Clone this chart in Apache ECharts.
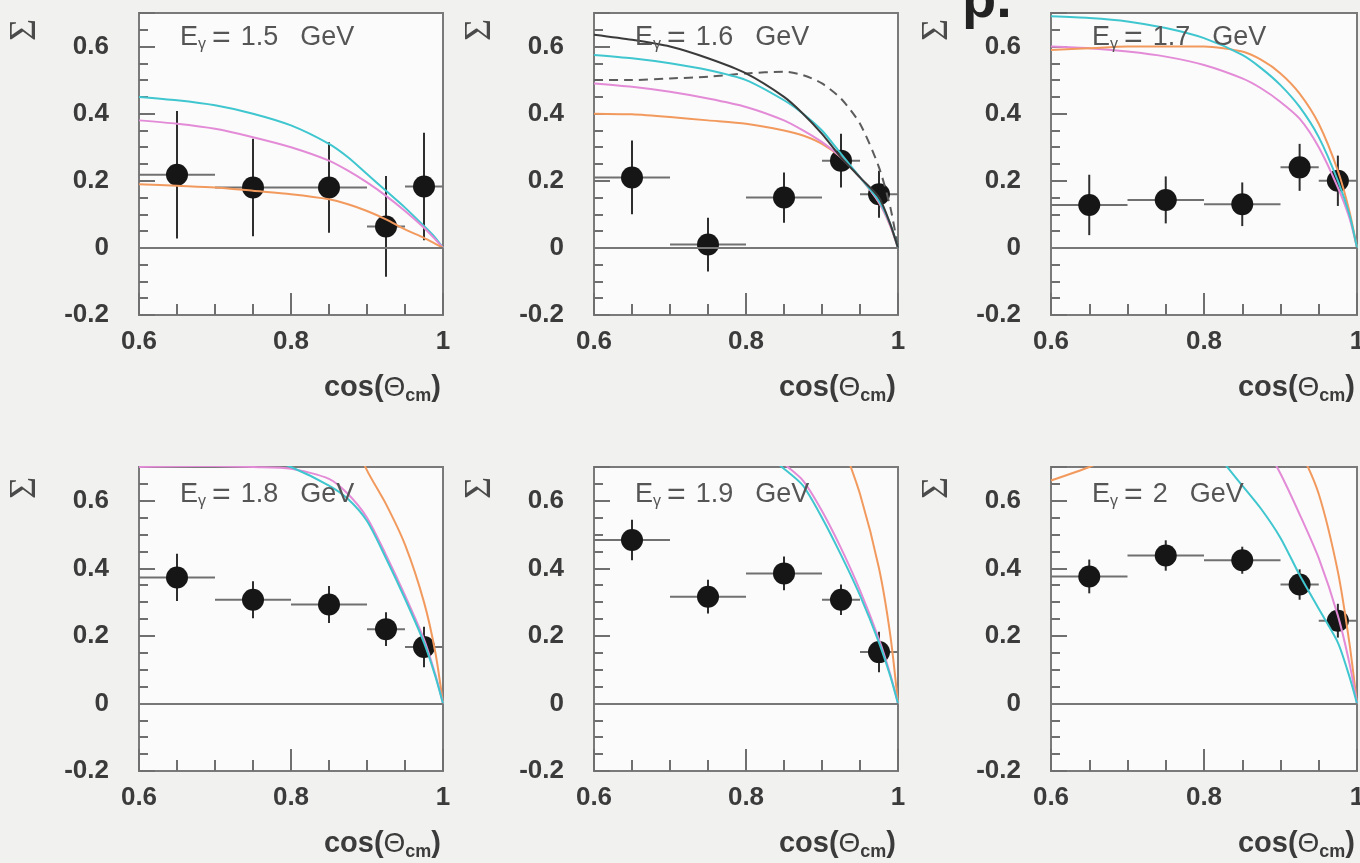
<!DOCTYPE html>
<html>
<head>
<meta charset="utf-8">
<title>Sigma vs cos(theta_cm)</title>
<script src="https://cdn.jsdelivr.net/npm/echarts@6/dist/echarts.min.js"></script>
<style>
  html, body { margin: 0; padding: 0; background: #f1f1ef; }
  #echarts_sigma { width: 1360px; height: 863px; }
</style>
</head>
<body>
<div id="echarts_sigma"></div>
<script>
// ---- data ----
var energies = ['1.5', '1.6', '1.7', '1.8', '1.9', '2'];
var cos_pts = [0.65, 0.75, 0.85, 0.925, 0.975];
var bin_lo = [0.6, 0.7, 0.8, 0.9, 0.95];
var bin_hi = [0.7, 0.8, 0.9, 0.95, 1.0];
var x_ticks = [0.6, 0.8, 1.0];
var y_ticks = [-0.2, 0, 0.2, 0.4, 0.6];

var sigma_15 = [0.218, 0.180, 0.180, 0.064, 0.183];
var err_15   = [0.190, 0.145, 0.135, 0.150, 0.160];
var sigma_16 = [0.210, 0.010, 0.150, 0.260, 0.160];
var err_16   = [0.110, 0.080, 0.075, 0.080, 0.070];
var sigma_17 = [0.128, 0.143, 0.130, 0.240, 0.200];
var err_17   = [0.090, 0.070, 0.065, 0.070, 0.075];
var sigma_18 = [0.373, 0.307, 0.293, 0.220, 0.167];
var err_18   = [0.070, 0.055, 0.055, 0.050, 0.060];
var sigma_19 = [0.484, 0.316, 0.385, 0.307, 0.152];
var err_19   = [0.060, 0.050, 0.050, 0.045, 0.060];
var sigma_20 = [0.376, 0.438, 0.424, 0.352, 0.245];
var err_20   = [0.050, 0.045, 0.040, 0.045, 0.050];

// model curves, sampled at curve_cos
var curve_cos = [0.6, 0.65, 0.7, 0.75, 0.8, 0.85, 0.875, 0.9, 0.925, 0.95, 0.975, 0.99, 1.0];

var cyan_15    = [0.45, 0.44, 0.425, 0.40, 0.365, 0.31, 0.27, 0.22, 0.17, 0.12, 0.065, 0.03, 0];
var magenta_15 = [0.38, 0.37, 0.355, 0.33, 0.30, 0.26, 0.23, 0.195, 0.155, 0.11, 0.06, 0.025, 0];
var orange_15  = [0.19, 0.185, 0.18, 0.17, 0.16, 0.145, 0.13, 0.11, 0.085, 0.055, 0.03, 0.012, 0];

var black_16   = [0.635, 0.62, 0.60, 0.565, 0.52, 0.45, 0.40, 0.34, 0.27, 0.21, 0.15, 0.07, 0];
var cyan_16    = [0.575, 0.565, 0.55, 0.53, 0.50, 0.44, 0.40, 0.35, 0.28, 0.21, 0.14, 0.07, 0];
var dash_16    = [0.50, 0.50, 0.505, 0.51, 0.52, 0.525, 0.515, 0.49, 0.445, 0.37, 0.24, 0.12, 0];
var magenta_16 = [0.49, 0.48, 0.465, 0.445, 0.42, 0.38, 0.35, 0.315, 0.27, 0.21, 0.135, 0.065, 0];
var orange_16  = [0.40, 0.398, 0.39, 0.38, 0.37, 0.35, 0.335, 0.31, 0.27, 0.21, 0.135, 0.065, 0];

var cyan_17    = [0.69, 0.685, 0.675, 0.655, 0.625, 0.575, 0.535, 0.485, 0.42, 0.33, 0.20, 0.10, 0];
var orange_17  = [0.59, 0.595, 0.60, 0.60, 0.60, 0.585, 0.56, 0.52, 0.46, 0.37, 0.23, 0.11, 0];
var magenta_17 = [0.60, 0.595, 0.585, 0.57, 0.545, 0.505, 0.475, 0.435, 0.385, 0.30, 0.18, 0.09, 0];

var cyan_18    = [0.80, 0.79, 0.77, 0.74, 0.70, 0.645, 0.605, 0.54, 0.43, 0.31, 0.18, 0.08, 0];
var magenta_18 = [0.70, 0.702, 0.703, 0.70, 0.695, 0.665, 0.62, 0.55, 0.44, 0.32, 0.19, 0.085, 0];
var orange_18  = [1.20, 1.20, 1.18, 1.15, 1.10, 0.95, 0.82, 0.69, 0.59, 0.47, 0.30, 0.15, 0];

var cyan_19    = [0.95, 0.93, 0.90, 0.85, 0.78, 0.695, 0.645, 0.55, 0.44, 0.32, 0.18, 0.08, 0];
var magenta_19 = [1.00, 0.98, 0.95, 0.90, 0.82, 0.71, 0.66, 0.57, 0.46, 0.335, 0.19, 0.085, 0];
var orange_19  = [1.50, 1.50, 1.45, 1.40, 1.30, 1.15, 1.05, 0.93, 0.78, 0.62, 0.40, 0.20, 0];

var cyan_20    = [1.00, 0.97, 0.93, 0.87, 0.78, 0.645, 0.575, 0.49, 0.38, 0.28, 0.18, 0.08, 0];
var magenta_20 = [1.30, 1.28, 1.22, 1.15, 1.03, 0.87, 0.78, 0.68, 0.56, 0.43, 0.26, 0.12, 0];
var orange_20  = [0.66, 0.70, 0.75, 0.80, 0.85, 0.88, 0.88, 0.84, 0.75, 0.62, 0.39, 0.18, 0];

// ---- layout ----
var col_left = [139, 594, 1051];
var col_width = [304, 304, 306];
var row_top = [13, 467];
var row_height = [302, 304];

var C_CYAN = '#3fc6cf', C_MAG = '#e38bd7', C_ORA = '#f29a5e', C_BLK = '#3a3a3a', C_DASH = '#5c5c5c';
var TXT = '#3b3b3b';

var panels = [
  {sig: sigma_15, err: err_15, curves: [[C_CYAN, cyan_15], [C_MAG, magenta_15], [C_ORA, orange_15]]},
  {sig: sigma_16, err: err_16, curves: [[C_ORA, orange_16], [C_MAG, magenta_16], [C_DASH, dash_16, 'dashed'], [C_CYAN, cyan_16], [C_BLK, black_16]]},
  {sig: sigma_17, err: err_17, curves: [[C_MAG, magenta_17], [C_ORA, orange_17], [C_CYAN, cyan_17]]},
  {sig: sigma_18, err: err_18, curves: [[C_ORA, orange_18], [C_MAG, magenta_18], [C_CYAN, cyan_18]]},
  {sig: sigma_19, err: err_19, curves: [[C_ORA, orange_19], [C_MAG, magenta_19], [C_CYAN, cyan_19]]},
  {sig: sigma_20, err: err_20, curves: [[C_ORA, orange_20], [C_MAG, magenta_20], [C_CYAN, cyan_20]]}
];

window.onload = function () {
  get_echarts();
};

// error bars: horizontal = bin width, vertical = stat error
function renderErr(params, api) {
  var x = api.value(0), y = api.value(1), lo = api.value(2), hi = api.value(3), e = api.value(4);
  var pL = api.coord([lo, y]), pR = api.coord([hi, y]);
  var pT = api.coord([x, y + e]), pB = api.coord([x, y - e]);
  return {
    type: 'group',
    children: [
      {type: 'line', shape: {x1: pL[0], y1: pL[1], x2: pR[0], y2: pR[1]}, style: {stroke: '#707070', lineWidth: 2}},
      {type: 'line', shape: {x1: pT[0], y1: pT[1], x2: pB[0], y2: pB[1]}, style: {stroke: '#2e2e2e', lineWidth: 2}}
    ]
  };
}

function get_echarts() {
  var myChart = echarts.init(document.getElementById('echarts_sigma'), null, {renderer: 'canvas'});

  var grids = [], xAxes = [], yAxes = [], series = [], titles = [], graphics = [];

  for (var i = 0; i < panels.length; i++) {
    var col = i % 3, row = Math.floor(i / 3);
    var left = col_left[col], top = row_top[row];
    var w = col_width[col], h = row_height[row];

    grids.push({
      left: left, top: top, width: w, height: h,
      show: true, borderColor: '#7a7a7a', borderWidth: 2, backgroundColor: '#fbfbfb',
      containLabel: false, outerBoundsMode: 'none'
    });

    xAxes.push({
      type: 'value', gridIndex: i, min: x_ticks[0], max: x_ticks[x_ticks.length - 1], interval: 0.2,
      axisLine: {show: false, onZero: false}, splitLine: {show: false},
      axisTick: {show: true, inside: true, length: 22, lineStyle: {color: '#6f6f6f', width: 2}},
      minorTick: {show: true, splitNumber: 4, length: 11, lineStyle: {color: '#6f6f6f', width: 2}},
      axisLabel: {margin: 14, fontFamily: 'Liberation Sans', fontWeight: 'bold', fontSize: 26, color: TXT,
                  showMinLabel: true, showMaxLabel: true}
    });

    yAxes.push({
      type: 'value', gridIndex: i, min: y_ticks[0], max: 0.7, interval: 0.2,
      axisLine: {show: false, onZero: false}, splitLine: {show: false},
      axisTick: {show: true, inside: true, length: 16, lineStyle: {color: '#6f6f6f', width: 2}},
      minorTick: {show: true, splitNumber: 4, length: 9, lineStyle: {color: '#6f6f6f', width: 2}},
      axisLabel: {
        margin: 30, fontFamily: 'Liberation Sans', fontWeight: 'bold', fontSize: 26, color: TXT,
        formatter: function (v) { return Math.abs(v - 0.7) < 1e-6 ? '' : v; }
      }
    });

    var p = panels[i];
    var errData = [], ptData = [];
    for (var k = 0; k < cos_pts.length; k++) {
      errData.push([cos_pts[k], p.sig[k], bin_lo[k], bin_hi[k], p.err[k]]);
      ptData.push([cos_pts[k], p.sig[k]]);
    }

    series.push({
      type: 'custom', xAxisIndex: i, yAxisIndex: i, silent: true, z: 2,
      renderItem: renderErr, encode: {x: 0, y: 1}, data: errData
    });
    series.push({
      type: 'scatter', xAxisIndex: i, yAxisIndex: i, silent: true, z: 3,
      symbolSize: 22, itemStyle: {color: '#161616', opacity: 1}, data: ptData,
      markLine: {
        silent: true, symbol: ['none', 'none'], label: {show: false},
        lineStyle: {color: '#777777', width: 2, type: 'solid'},
        data: [{yAxis: 0}]
      }
    });
    for (var c = 0; c < p.curves.length; c++) {
      var cv = p.curves[c];
      series.push({
        type: 'line', xAxisIndex: i, yAxisIndex: i, silent: true, z: 4, clip: true,
        showSymbol: false, smooth: 0.25,
        lineStyle: {color: cv[0], width: 2, type: cv[2] === 'dashed' ? [9, 6] : 'solid'},
        data: curve_cos.map(function (x, j) { return [x, cv[1][j]]; })
      });
    }

    // energy label (wide ROOT-style spacing)
    titles.push({
      left: left + 41, top: top + 10 + row * 3, padding: 0, z: 10,
      text: '{e|E}{g|γ}{q|=}{e|' + energies[i] + '}{v|GeV}',
      textStyle: {
        fontWeight: 'normal',
        rich: {
          e: {fontFamily: 'Liberation Sans', fontWeight: 'normal', fontSize: 27, color: '#555555', lineHeight: 30},
          g: {fontFamily: 'Liberation Sans', fontWeight: 'normal', fontSize: 16, color: '#555555', lineHeight: 14, verticalAlign: 'bottom'},
          q: {fontFamily: 'Liberation Sans', fontWeight: 'normal', fontSize: 32, color: '#555555', lineHeight: 30, padding: [0, 10, 0, 6]},
          v: {fontFamily: 'Liberation Sans', fontWeight: 'normal', fontSize: 27, color: '#555555', lineHeight: 30, padding: [0, 0, 0, 22]}
        }
      }
    });

    // x axis title
    titles.push({
      right: 1360 - (left + w) + 2, top: top + h + 56, padding: 0,
      text: '{a|cos(}{t|Θ}{s|cm}{a|)}',
      textStyle: {
        rich: {
          a: {fontFamily: 'Liberation Sans', fontWeight: 'bold', fontSize: 29, color: TXT, lineHeight: 34},
          t: {fontFamily: 'Liberation Sans', fontWeight: 'normal', fontSize: 28, color: TXT, lineHeight: 34},
          s: {fontFamily: 'Liberation Sans', fontWeight: 'bold', fontSize: 18, color: TXT, lineHeight: 16, verticalAlign: 'bottom'}
        }
      }
    });

    // y axis title (rotated Sigma)
    graphics.push({
      type: 'group', x: left - 114, y: top + 17 + row * 4, rotation: Math.PI / 2, z: 10,
      children: [{
        type: 'text', x: 0, y: 0,
        style: {text: 'Σ', font: 'normal 38px "Liberation Serif"', fill: '#4a4a4a', align: 'center', verticalAlign: 'middle'}
      }]
    });
  }

  // fragment of the page title cut at the top edge
  graphics.push({
    type: 'text', x: 962, y: 2, z: 10,
    style: {text: 'p.', font: 'bold 56px "Liberation Sans"', fill: '#222222', align: 'left', verticalAlign: 'middle'}
  });

  var option = {
    backgroundColor: '#f1f1ef',
    animation: false,
    title: titles,
    graphic: graphics,
    grid: grids,
    xAxis: xAxes,
    yAxis: yAxes,
    series: series
  };

  myChart.setOption(option);
}
</script>
</body>
</html>
